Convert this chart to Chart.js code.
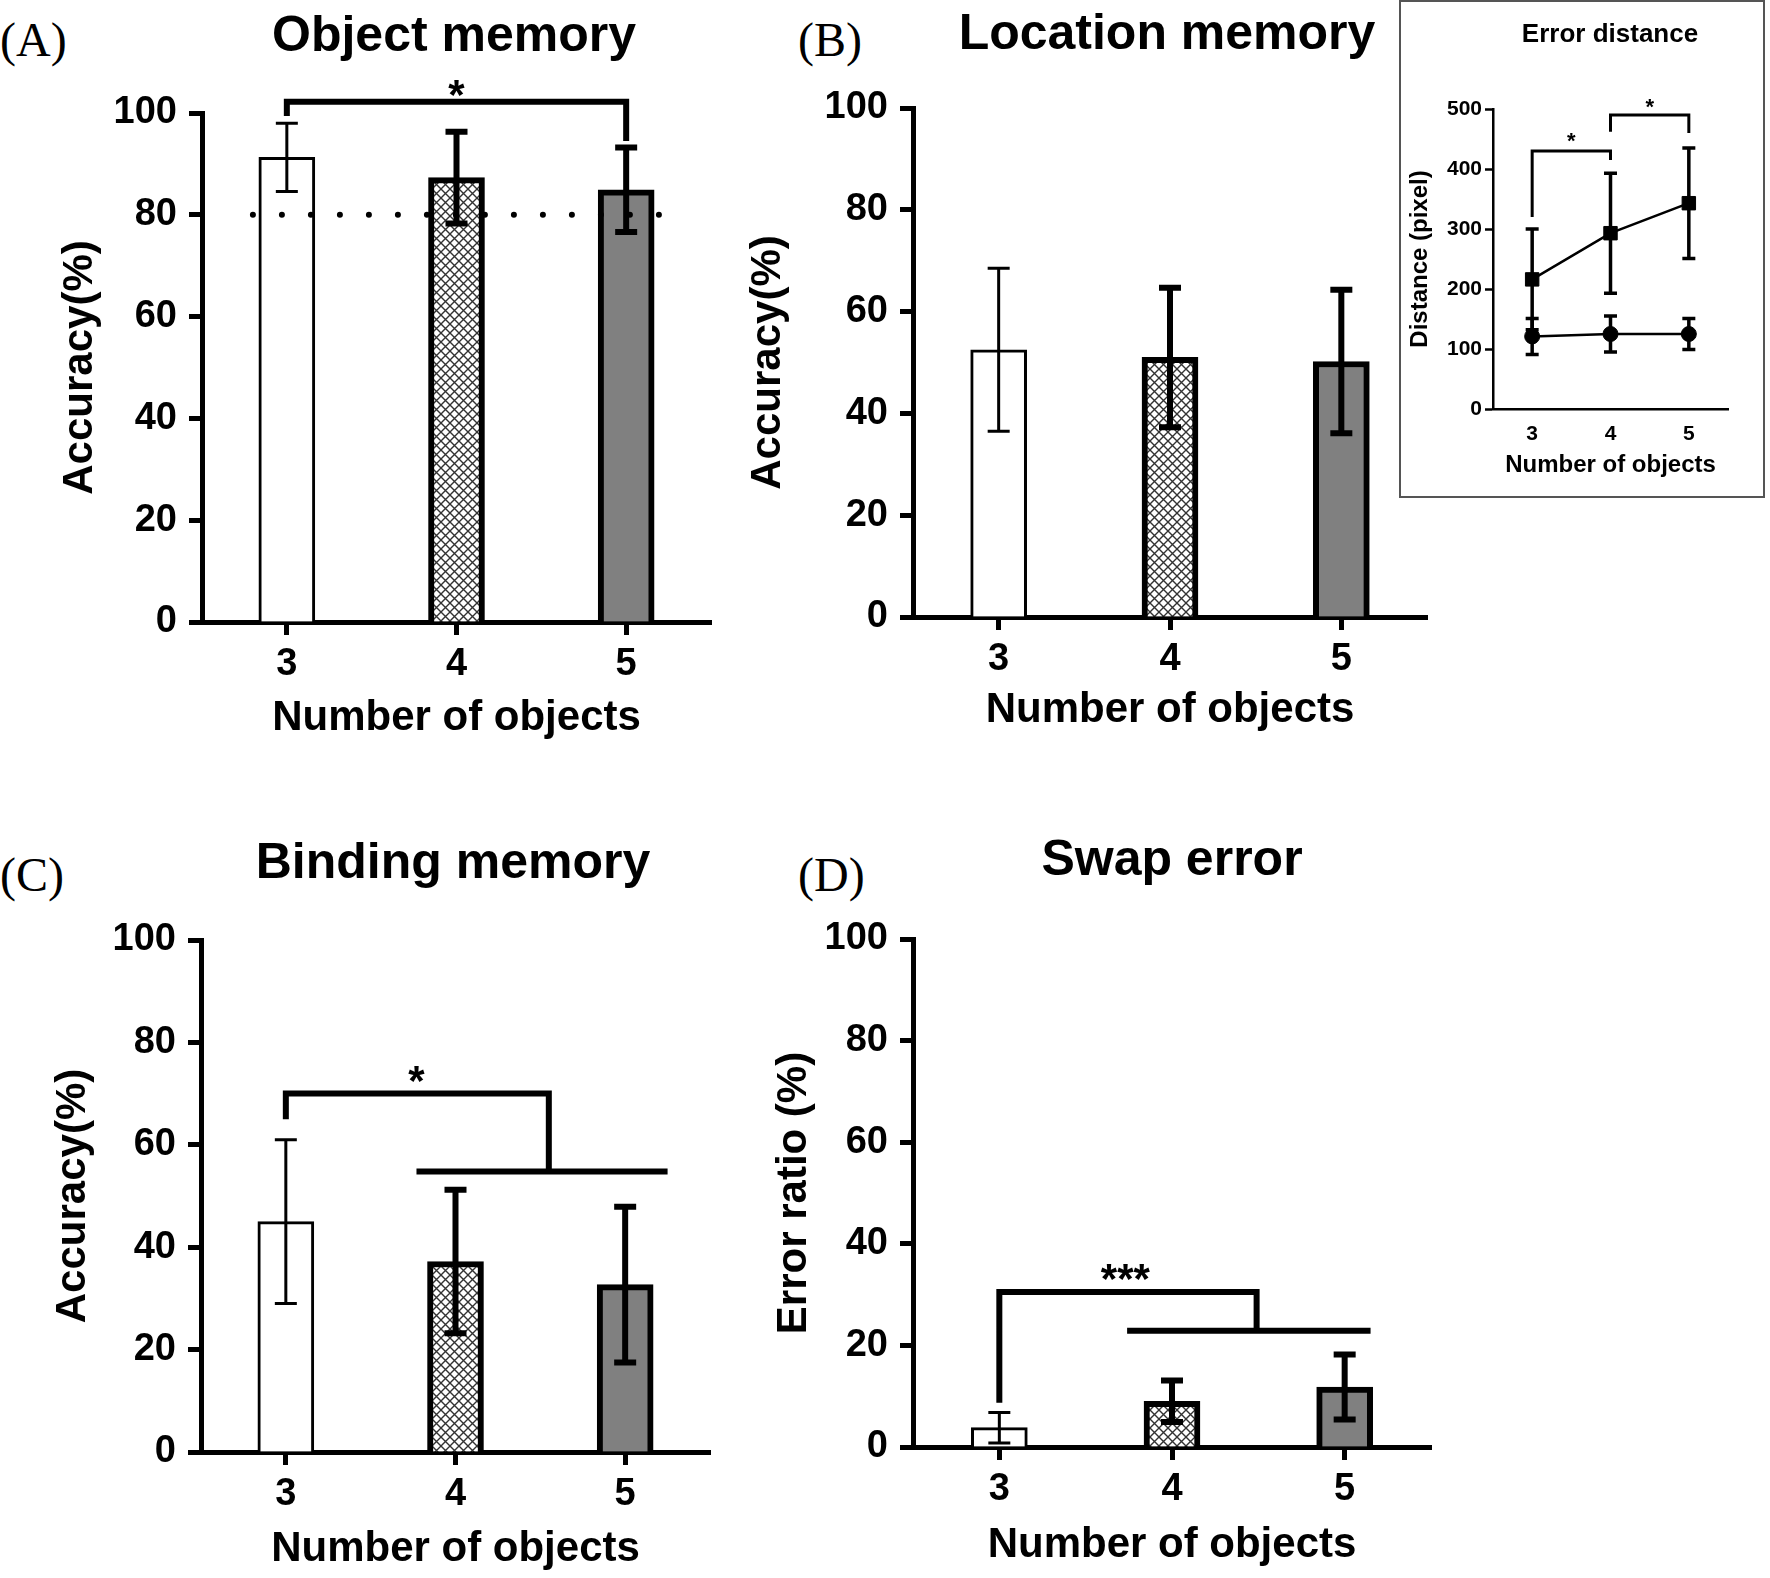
<!DOCTYPE html>
<html>
<head>
<meta charset="utf-8">
<title>Memory accuracy by number of objects</title>
<script src="https://cdn.jsdelivr.net/npm/chart.js@4.4.0/dist/chart.umd.min.js"></script>
<style>
  html, body { margin: 0; padding: 0; background: #fff; }
  body { width: 1770px; height: 1578px; position: relative; overflow: hidden;
         font-family: "Liberation Sans", Arial, Helvetica, sans-serif; color: #000; }
  canvas { position: absolute; }
  .title { position: absolute; transform: translate(-50%, -50%); font-weight: bold;
           font-size: 50px; line-height: 1; white-space: nowrap; }
  .letter { position: absolute; transform: translateY(-50%); line-height: 1;
            font-family: "Liberation Serif", "Times New Roman", serif; font-size: 48px; }
  #insetBox { position: absolute; left: 1399px; top: 0; width: 362px; height: 494px;
              border: 2px solid #555; background: #fff; }
  #insetBox canvas { left: 0; top: 0; }
  #insetBox .title { font-size: 26px; }
</style>
</head>
<body>

<div class="letter" style="left:0;top:40px">(A)</div>
<div class="title" style="left:454px;top:34px">Object memory</div>
<canvas id="chartA" width="780" height="770" style="left:0;top:0"></canvas>

<div class="letter" style="left:798px;top:40px">(B)</div>
<div class="title" style="left:1167px;top:32px">Location memory</div>
<canvas id="chartB" width="740" height="770" style="left:700px;top:0"></canvas>

<div class="letter" style="left:0;top:875px">(C)</div>
<div class="title" style="left:453px;top:861px">Binding memory</div>
<canvas id="chartC" width="780" height="798" style="left:0;top:780px"></canvas>

<div class="letter" style="left:798px;top:875px">(D)</div>
<div class="title" style="left:1172px;top:858px">Swap error</div>
<canvas id="chartD" width="740" height="798" style="left:700px;top:780px"></canvas>

<div id="insetBox">
  <canvas id="chartInset" width="362" height="494"></canvas>
  <div class="title" style="left:209px;top:31px">Error distance</div>
</div>

<script>
// ===== DATA =====
const categories = ["3", "4", "5"];
const pctTicks = [0, 20, 40, 60, 80, 100];

const objectMean = [91.3, 87.3, 84.9];
const objectErr = [6.7, 9.0, 8.3];
const objectChance = 80;

const locationMean = [52.5, 51.0, 50.2];
const locationErr = [16.0, 13.7, 14.1];

const bindingMean = [45.0, 37.2, 32.7];
const bindingErr = [16.0, 14.0, 15.2];

const swapMean = [3.8, 9.0, 11.8];
const swapErr = [3.0, 4.1, 6.4];

// inset: error distance (pixel)
const distTicks = [0, 100, 200, 300, 400, 500];
const distSquareMean = [216, 293, 343];
const distSquareErr = [84, 100, 92];
const distCircleMean = [121, 125, 125];
const distCircleErr = [30, 30, 26];

// significance brackets, x = category index, y = data value
const objectSig = [{ from: 0, to: 2, y: 102.2, drop: [99.4, 94.5], text: "*", tx: 1, ty: 105.5 }];
const bindingSig = [{ from: 0, to: 1.55, y: 70, drop: [65, 54.8], under: [0.77, 2.25], text: "*", tx: 0.77, ty: 74.5 }];
const swapSig = [{ from: 0, to: 1.49, y: 30.5, drop: [8.7, 22.9], under: [0.74, 2.15], text: "***", tx: 0.73, ty: 35 }];
const distSig = [
  { from: 0, to: 1, y: 430, drop: [320, 415], text: "*", tx: 0.5, ty: 456 },
  { from: 1, to: 2, y: 490, drop: [462, 460], text: "*", tx: 1.5, ty: 512 }
];

// ===== STYLE =====
Chart.defaults.font.family = "'Liberation Sans', Arial, Helvetica, sans-serif";
Chart.defaults.font.weight = "bold";
Chart.defaults.color = "#000";
Chart.defaults.animation = false;
Chart.defaults.plugins.legend.display = false;
Chart.defaults.plugins.tooltip.enabled = false;

function makeHatch() {
  const c = document.createElement("canvas");
  c.width = 9; c.height = 9;
  const g = c.getContext("2d");
  g.fillStyle = "#fff";
  g.fillRect(0, 0, 9, 9);
  g.strokeStyle = "#333";
  g.lineWidth = 1.4;
  g.beginPath();
  g.moveTo(-1, -1); g.lineTo(10, 10);
  g.moveTo(10, -1); g.lineTo(-1, 10);
  g.stroke();
  return g.createPattern(c, "repeat");
}
const hatch = makeHatch();

// ===== PLUGINS =====
const errorBarPlugin = {
  id: "errbars",
  afterDatasetsDraw(chart) {
    const ctx = chart.ctx;
    const ys = chart.scales.y;
    chart.data.datasets.forEach((ds, di) => {
      if (!ds.errors) return;
      const meta = chart.getDatasetMeta(di);
      meta.data.forEach((el, i) => {
        const v = ds.data[i], e = ds.errors[i];
        const lw = Array.isArray(ds.errWidth) ? ds.errWidth[i] : ds.errWidth;
        const half = ds.capWidth / 2;
        const yTop = ys.getPixelForValue(v + e);
        const yBot = ys.getPixelForValue(Math.max(v - e, 0));
        ctx.save();
        ctx.strokeStyle = "#000";
        ctx.lineWidth = lw;
        ctx.beginPath();
        ctx.moveTo(el.x, yTop); ctx.lineTo(el.x, yBot);
        ctx.moveTo(el.x - half, yTop); ctx.lineTo(el.x + half, yTop);
        ctx.moveTo(el.x - half, yBot); ctx.lineTo(el.x + half, yBot);
        ctx.stroke();
        ctx.restore();
      });
    });
  }
};

const sigPlugin = {
  id: "sig",
  afterDatasetsDraw(chart, args, opts) {
    const ctx = chart.ctx, xs = chart.scales.x, ys = chart.scales.y;
    if (opts.chance != null) {
      ctx.save();
      ctx.strokeStyle = "#000";
      ctx.lineWidth = 6;
      ctx.lineCap = "round";
      ctx.setLineDash([0, 29]);
      const y = ys.getPixelForValue(opts.chance);
      ctx.beginPath();
      ctx.moveTo(xs.getPixelForValue(-0.2), y);
      ctx.lineTo(xs.getPixelForValue(2.27), y);
      ctx.stroke();
      ctx.restore();
    }
    (opts.brackets || []).forEach(b => {
      const x1 = xs.getPixelForValue(b.from), x2 = xs.getPixelForValue(b.to);
      const y = ys.getPixelForValue(b.y);
      ctx.save();
      ctx.strokeStyle = "#000";
      ctx.lineWidth = opts.lineWidth;
      ctx.lineJoin = "miter";
      ctx.beginPath();
      ctx.moveTo(x1, ys.getPixelForValue(b.drop[0]));
      ctx.lineTo(x1, y);
      ctx.lineTo(x2, y);
      ctx.lineTo(x2, ys.getPixelForValue(b.drop[1]));
      if (b.under) {
        const yu = ys.getPixelForValue(b.drop[1]);
        ctx.moveTo(xs.getPixelForValue(b.under[0]), yu);
        ctx.lineTo(xs.getPixelForValue(b.under[1]), yu);
      }
      ctx.stroke();
      ctx.font = "bold " + opts.fontSize + "px 'Liberation Sans', Arial, sans-serif";
      ctx.fillStyle = "#000";
      ctx.textAlign = "center";
      ctx.textBaseline = "alphabetic";
      ctx.fillText(b.text, xs.getPixelForValue(b.tx), ys.getPixelForValue(b.ty) + 0.57 * opts.fontSize);
      ctx.restore();
    });
  }
};

Chart.register(errorBarPlugin, sigPlugin);

// ===== BAR PANELS =====
function barPanel(id, means, errs, yTitle, L, brackets, chance) {
  return new Chart(document.getElementById(id), {
    type: "bar",
    data: {
      labels: categories,
      datasets: [{
        data: means,
        errors: errs,
        errWidth: [3, 6, 6],
        capWidth: 22,
        backgroundColor: ["#ffffff", hatch, "#808080"],
        borderColor: "#000",
        borderWidth: [3, 6, 6],
        barThickness: 56
      }]
    },
    options: {
      responsive: false,
      layout: { padding: L.pad },
      scales: {
        x: {
          offset: true,
          grid: { drawOnChartArea: false, offset: false, tickLength: 13, tickWidth: 5, tickColor: "#000" },
          border: { width: 5, color: "#000" },
          ticks: { font: { size: 38 }, padding: 7 },
          title: { display: true, text: "Number of objects", font: { size: 42 }, padding: { top: 0, bottom: L.xtPad } },
          afterFit: s => { s.height = L.xH; }
        },
        y: {
          min: 0, max: 100,
          afterBuildTicks: s => { s.ticks = pctTicks.map(v => ({ value: v })); },
          grid: { drawOnChartArea: false, tickLength: 13, tickWidth: 5, tickColor: "#000" },
          border: { width: 5, color: "#000" },
          ticks: { font: { size: 38 }, padding: 12 },
          title: { display: true, text: yTitle, font: { size: 42 }, padding: { top: L.ytPad, bottom: 0 } },
          afterFit: s => { s.width = L.yW; }
        }
      },
      plugins: { sig: { brackets: brackets, chance: chance, lineWidth: 6, fontSize: 42 } }
    }
  });
}

barPanel("chartA", objectMean, objectErr, "Accuracy(%)",
  { pad: { left: 0, top: 113, right: 69, bottom: 18 }, yW: 202, xH: 130, xtPad: 8, ytPad: 55 },
  objectSig, objectChance);

barPanel("chartB", locationMean, locationErr, "Accuracy(%)",
  { pad: { left: 0, top: 108, right: 13, bottom: 23 }, yW: 213, xH: 130, xtPad: 11, ytPad: 43 },
  [], null);

barPanel("chartC", bindingMean, bindingErr, "Accuracy(%)",
  { pad: { left: 0, top: 160, right: 70, bottom: 0 }, yW: 201, xH: 126, xtPad: 3, ytPad: 48 },
  bindingSig, null);

barPanel("chartD", swapMean, swapErr, "Error ratio (%)",
  { pad: { left: 0, top: 159, right: 9, bottom: 0 }, yW: 213, xH: 131, xtPad: 7, ytPad: 69 },
  swapSig, null);

// ===== INSET: ERROR DISTANCE =====
new Chart(document.getElementById("chartInset"), {
  type: "line",
  data: {
    labels: categories,
    datasets: [
      {
        data: distSquareMean, errors: distSquareErr, errWidth: 3.5, capWidth: 13,
        pointStyle: "rect", pointRadius: 9.5, borderColor: "#000", backgroundColor: "#000",
        borderWidth: 2.5, pointBorderWidth: 1, tension: 0
      },
      {
        data: distCircleMean, errors: distCircleErr, errWidth: 3.5, capWidth: 13,
        pointStyle: "circle", pointRadius: 7.5, borderColor: "#000", backgroundColor: "#000",
        borderWidth: 2.5, pointBorderWidth: 1, tension: 0
      }
    ]
  },
  options: {
    responsive: false,
    layout: { padding: { left: 0, top: 107, right: 35, bottom: 0 } },
    scales: {
      x: {
        offset: true,
        grid: { drawOnChartArea: false, drawTicks: false, offset: false },
        border: { width: 2.5, color: "#000" },
        ticks: { font: { size: 21 }, padding: 13 },
        title: { display: true, text: "Number of objects", font: { size: 24 }, padding: { top: 0, bottom: 16 } },
        afterFit: s => { s.height = 87; }
      },
      y: {
        min: 0, max: 500,
        afterBuildTicks: s => { s.ticks = distTicks.map(v => ({ value: v })); },
        grid: { drawOnChartArea: false, tickLength: 8, tickWidth: 2.5, tickColor: "#000" },
        border: { width: 2.5, color: "#000" },
        ticks: { font: { size: 21 }, padding: 3 },
        title: { display: true, text: "Distance (pixel)", font: { size: 24 }, padding: { top: 5, bottom: 0 } },
        afterFit: s => { s.width = 92; }
      }
    },
    plugins: { sig: { brackets: distSig, lineWidth: 3, fontSize: 22 } }
  }
});
</script>
</body>
</html>
